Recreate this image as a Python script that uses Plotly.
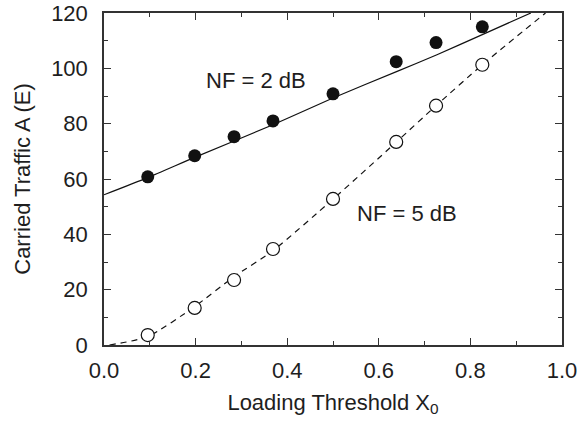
import plotly.graph_objects as go

# Measured carried traffic vs loading threshold
x_points = [0.0955, 0.198, 0.284, 0.369, 0.500, 0.638, 0.725, 0.826]
traffic_nf2 = [60.8, 68.4, 75.3, 81.0, 90.8, 102.4, 109.3, 115.0]
traffic_nf5 = [3.6, 13.4, 23.5, 34.7, 52.8, 73.4, 86.5, 101.3]

# Analytical curves
curve_nf2_x = [0.0, 0.0955, 0.198, 0.369, 0.500, 0.640, 0.727, 0.826, 0.932]
curve_nf2_y = [54.3, 60.5, 67.8, 79.6, 89.3, 98.9, 104.9, 112.2, 120.0]
curve_nf5_x = [0.012, 0.0955, 0.198, 0.284, 0.369, 0.500, 0.638, 0.725, 0.826, 0.964]
curve_nf5_y = [0.0, 3.0, 13.9, 24.7, 34.1, 52.7, 73.3, 86.5, 101.3, 120.0]

x_ticks = [0.0, 0.2, 0.4, 0.6, 0.8, 1.0]
y_ticks = [0, 20, 40, 60, 80, 100, 120]

font_family = "Liberation Sans, Arial, sans-serif"
ink = "#1e1e1e"
fs = 22

fig = go.Figure()

fig.add_trace(go.Scatter(
    x=curve_nf2_x, y=curve_nf2_y, mode="lines",
    line=dict(color="#111111", width=1.2, shape="spline", smoothing=0.6),
    showlegend=False, hoverinfo="skip"))
fig.add_trace(go.Scatter(
    x=curve_nf5_x, y=curve_nf5_y, mode="lines",
    line=dict(color="#111111", width=1.2, dash="6px,5px", shape="spline", smoothing=0.6),
    showlegend=False, hoverinfo="skip"))
fig.add_trace(go.Scatter(
    x=x_points, y=traffic_nf2, mode="markers",
    marker=dict(symbol="circle", size=13, color="#111111", line=dict(width=0)),
    showlegend=False))
fig.add_trace(go.Scatter(
    x=x_points, y=traffic_nf5, mode="markers",
    marker=dict(symbol="circle", size=13, color="white", line=dict(width=1.2, color="#111111")),
    showlegend=False))

fig.add_annotation(x=0.332, y=95.5, text="NF = 2 dB", showarrow=False,
                   font=dict(family=font_family, size=fs, color=ink))
fig.add_annotation(x=0.662, y=47.4, text="NF = 5 dB", showarrow=False,
                   font=dict(family=font_family, size=fs, color=ink))

axis_common = dict(
    showline=True, linecolor="#333333", linewidth=1.5, mirror="ticks",
    ticks="inside", ticklen=7, tickwidth=1.2, tickcolor="#333333",
    showgrid=False, zeroline=False, automargin=False,
    tickfont=dict(family=font_family, size=fs, color=ink),
)

fig.update_xaxes(
    range=[0, 1], tickvals=x_ticks, tickformat=".1f",
    minor=dict(dtick=0.1, ticks="inside", ticklen=4, tickwidth=1.2, tickcolor="#333333"),
    title=dict(text="Loading Threshold X<sub>0</sub>", standoff=12,
               font=dict(family=font_family, size=fs, color=ink)),
    ticklabelstandoff=5,
    **axis_common)
fig.update_yaxes(
    range=[0, 120], tickvals=y_ticks,
    minor=dict(dtick=10, ticks="inside", ticklen=4, tickwidth=1.2, tickcolor="#333333"),
    title=dict(text="Carried Traffic A (E)", standoff=14,
               font=dict(family=font_family, size=fs, color=ink)),
    ticklabelstandoff=10,
    **axis_common)

fig.update_layout(
    width=588, height=421,
    margin=dict(l=104, r=26, t=13, b=76),
    plot_bgcolor="white", paper_bgcolor="white",
    font=dict(family=font_family, color=ink),
)

fig.write_html("out.html")
